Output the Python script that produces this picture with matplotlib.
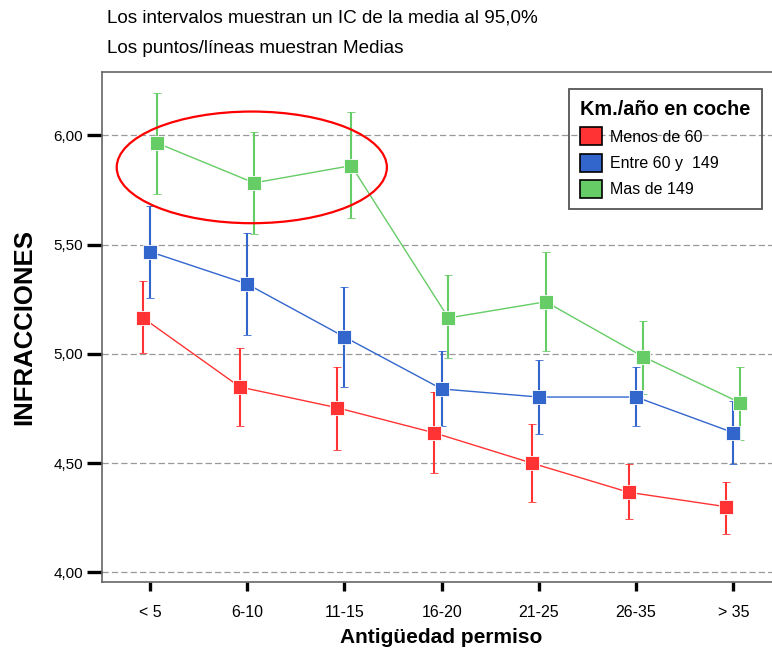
import numpy as np
import matplotlib.pyplot as plt
from matplotlib.patches import Ellipse, Patch

# categories on the x axis
grupos = ['< 5', '6-10', '11-15', '16-20', '21-25', '26-35', '> 35']
yticks = [4.0, 4.5, 5.0, 5.5, 6.0]
ytick_labels = ['4,00', '4,50', '5,00', '5,50', '6,00']

series = ['Menos de 60', 'Entre 60 y  149', 'Mas de 149']
colores = ['#ff3333', '#3366cc', '#66cc66']

# medias e IC 95%
media_menos60 = [5.165, 4.848, 4.753, 4.638, 4.500, 4.366, 4.300]
inf_menos60 = [5.002, 4.671, 4.558, 4.453, 4.323, 4.243, 4.177]
sup_menos60 = [5.335, 5.028, 4.938, 4.825, 4.680, 4.494, 4.412]

media_60_149 = [5.467, 5.319, 5.077, 4.839, 4.802, 4.802, 4.639]
inf_60_149 = [5.254, 5.085, 4.849, 4.671, 4.632, 4.671, 4.494]
sup_60_149 = [5.676, 5.554, 5.304, 5.011, 4.970, 4.938, 4.785]

media_mas149 = [5.965, 5.782, 5.861, 5.164, 5.238, 4.987, 4.776]
inf_mas149 = [5.733, 5.547, 5.620, 4.981, 5.011, 4.817, 4.607]
sup_mas149 = [6.195, 6.016, 6.105, 5.361, 5.465, 5.150, 4.938]

medias = [media_menos60, media_60_149, media_mas149]
inferiores = [inf_menos60, inf_60_149, inf_mas149]
superiores = [sup_menos60, sup_60_149, sup_mas149]
desplaz = [-0.075, 0.0, 0.07]

fig = plt.figure(figsize=(7.72, 6.51), dpi=100)
ax = fig.add_axes([0.1325, 0.1065, 1.0117 - 0.1325, 0.8899 - 0.1065])

x = np.arange(len(grupos))
for m, lo, hi, c, d in zip(medias, inferiores, superiores, colores, desplaz):
    m = np.array(m)
    err = [m - np.array(lo), np.array(hi) - m]
    ax.errorbar(x + d, m, yerr=err, color=c, lw=1, elinewidth=1.5,
                capsize=3, capthick=1.2, marker='s', markersize=10,
                markerfacecolor=c, markeredgecolor='#ffffff', markeredgewidth=0.6,
                zorder=3)

# elipse resaltando los primeros grupos
ax.add_patch(Ellipse((1.047, 5.853), 2.779, 0.511, fill=False,
                     edgecolor='#ff0000', lw=1.6, zorder=4))

ax.set_xlim(-0.491, 6.491)
ax.set_ylim(3.957, 6.291)
ax.set_xticks(x)
ax.set_xticklabels(grupos, fontsize=11.5, family='Liberation Sans')
ax.set_yticks(yticks)
ax.set_yticklabels(ytick_labels, fontsize=11, family='Liberation Sans')
ax.tick_params(axis='y', length=11, width=2.4, pad=3)
ax.tick_params(axis='x', length=6.5, width=2.4, pad=10)

for yv in yticks:
    ax.axhline(yv, color='#999999', lw=0.9, ls=(0, (5, 2.5)), zorder=1)

for s in ['top', 'bottom', 'left']:
    ax.spines[s].set_color('#666666')
    ax.spines[s].set_linewidth(1.2)
ax.spines['right'].set_visible(False)

ax.set_xlabel('Antigüedad permiso', fontsize=15, fontweight='bold',
              family='Liberation Sans', labelpad=6)
ax.set_ylabel('INFRACCIONES', fontsize=18.5, fontweight='bold',
              family='Liberation Sans', labelpad=12)

fig.text(0.1386, 0.9724, 'Los intervalos muestran un IC de la media al 95,0%',
         fontsize=13.6, va='center', family='Liberation Sans')
fig.text(0.1386, 0.926, 'Los puntos/líneas muestran Medias',
         fontsize=13.6, va='center', family='Liberation Sans')

handles = [Patch(facecolor=c, edgecolor='black', lw=1.2) for c in colores]
leg = fig.legend(handles, series, loc='upper left',
                 bbox_to_anchor=(569 / 772, 1 - 89 / 651), borderaxespad=0,
                 title='Km./año en coche', handlelength=1.35,
                 handleheight=1.35, handletextpad=0.5, labelspacing=0.52,
                 borderpad=0.7, fancybox=False, framealpha=1,
                 prop={'family': 'Liberation Sans', 'size': 11.5})
leg.get_title().set_fontweight('bold')
leg.get_title().set_fontsize(14.3)
leg.get_title().set_family('Liberation Sans')
leg.get_frame().set_facecolor('none')
leg.get_frame().set_edgecolor('#555555')
leg.get_frame().set_linewidth(1.3)
leg._legend_box.align = 'left'
leg.set_zorder(0)

fig.savefig('out.png', dpi=100)
